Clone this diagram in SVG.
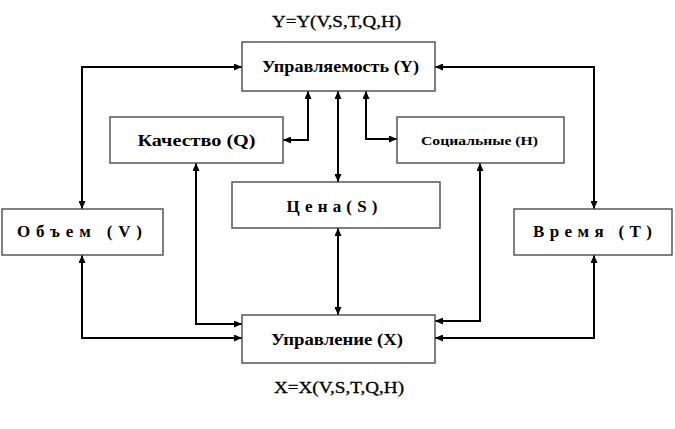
<svg xmlns="http://www.w3.org/2000/svg" width="675" height="429" viewBox="0 0 675 429">
<defs>
<style>
.box{fill:#fff;stroke:#555;stroke-width:1.5}
.t{font-family:"Liberation Serif","Times New Roman",serif;font-weight:bold;font-size:16px;fill:#000;text-anchor:middle}
.w{font-family:"Liberation Serif","Times New Roman",serif;font-weight:bold;font-size:17px;fill:#000;text-anchor:middle}
.f{font-family:"Liberation Serif","Times New Roman",serif;font-size:16px;fill:#000;text-anchor:middle;stroke:#000;stroke-width:0.3}
.s{font-family:"Liberation Serif","Times New Roman",serif;font-weight:bold;font-size:12.5px;fill:#000;text-anchor:middle}
.c{fill:none;stroke:#000;stroke-width:2;marker-start:url(#ah);marker-end:url(#ah)}
</style>
<marker id="ah" viewBox="0 0 8 7" refX="8" refY="3.5" markerWidth="8" markerHeight="7" markerUnits="userSpaceOnUse" orient="auto-start-reverse">
<path d="M0,0 L8,3.5 L0,7 z" fill="#000"/>
</marker>
</defs>
<rect width="675" height="429" fill="#fff"/>
<text class="f" x="336.5" y="27" textLength="129" lengthAdjust="spacingAndGlyphs">Y=Y(V,S,T,Q,H)</text>
<text class="f" x="339" y="393" textLength="130" lengthAdjust="spacingAndGlyphs">X=X(V,S,T,Q,H)</text>
<g id="connectors">
<path class="c" d="M242,67 H82 V209"/>
<path class="c" d="M435,67 H594 V209"/>
<path class="c" d="M283,140 H308 V91"/>
<path class="c" d="M338,91 V182"/>
<path class="c" d="M366,91 V139 H397"/>
<path class="c" d="M196,163 V324 H242"/>
<path class="c" d="M82,255 V338 H242"/>
<path class="c" d="M338,228 V315"/>
<path class="c" d="M480,163 V321 H435"/>
<path class="c" d="M594,255 V338 H435"/>
</g>
<g id="node-Y">
<rect class="box" x="242" y="42" width="193" height="49"/>
<text class="t" x="340.5" y="72" textLength="157" lengthAdjust="spacingAndGlyphs">Управляемость (Y)</text>
</g>
<g id="node-Q">
<rect class="box" x="110" y="117" width="173" height="46"/>
<text class="t" x="196.5" y="146" textLength="118" lengthAdjust="spacingAndGlyphs">Качество (Q)</text>
</g>
<g id="node-H">
<rect class="box" x="397" y="117" width="167" height="46"/>
<text class="s" x="479.5" y="145" textLength="117" lengthAdjust="spacingAndGlyphs">Социальные (H)</text>
</g>
<g id="node-S">
<rect class="box" x="232" y="182" width="208" height="46"/>
<text class="w" x="332" y="212" textLength="91" lengthAdjust="spacing">Цена(S)</text>
</g>
<g id="node-V">
<rect class="box" x="2" y="209" width="161" height="46"/>
<text class="w" x="79.5" y="237" textLength="125" lengthAdjust="spacing">Объем (V)</text>
</g>
<g id="node-T">
<rect class="box" x="514" y="209" width="158" height="46"/>
<text class="w" x="592.5" y="237" textLength="119" lengthAdjust="spacing">Время (Т)</text>
</g>
<g id="node-X">
<rect class="box" x="242" y="315" width="193" height="48"/>
<text class="t" x="337" y="345" textLength="132" lengthAdjust="spacingAndGlyphs">Управление (X)</text>
</g>
</svg>
